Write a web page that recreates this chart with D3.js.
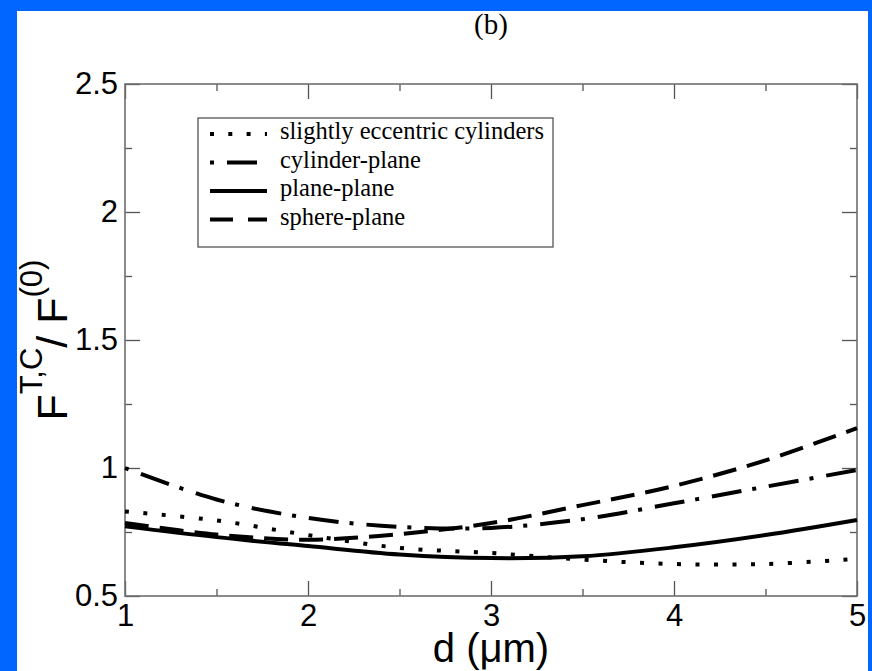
<!DOCTYPE html>
<html>
<head>
<meta charset="utf-8">
<script src="https://cdn.jsdelivr.net/npm/d3@7"></script>
<style>
    body { margin: 0; padding: 0; background: #0066ff; }
    #chart svg { display: block; }
    .tick text { font-family: "Liberation Sans", Arial, sans-serif; font-size: 31px; fill: #000; }
    .tick line { stroke: #555; stroke-width: 1.3px; }
    .legend-text { font-family: "Liberation Serif", "Times New Roman", serif; font-size: 24.5px; fill: #000; }
</style>
</head>
<body>
<div id="chart"></div>
<script>
// distance d in micrometres
var dValues = [1, 1.5, 2, 2.5, 3, 3.5, 4, 4.5, 5];
// F^{T,C} / F^{(0)} per geometry
var eccentricCylinders = [0.83, 0.795, 0.738, 0.688, 0.668, 0.642, 0.625, 0.625, 0.645];
var cylinderPlane = [1.0, 0.877, 0.805, 0.77, 0.766, 0.8, 0.862, 0.927, 0.992];
var planePlane = [0.772, 0.73, 0.695, 0.662, 0.648, 0.655, 0.69, 0.738, 0.797];
var spherePlane = [0.785, 0.74, 0.72, 0.742, 0.785, 0.855, 0.93, 1.03, 1.156];

var seriesNames = ["slightly eccentric cylinders", "cylinder-plane", "plane-plane", "sphere-plane"];
var xMajorTicks = [1, 2, 3, 4, 5];
var xMinorTicks = [1.5, 2.5, 3.5, 4.5];
var yMajorTicks = [0.5, 1, 1.5, 2, 2.5];
var yMinorTicks = [0.75, 1.25, 1.75, 2.25];

var totalWidth = 872, totalHeight = 671;
var margin = {top: 84, right: 15, bottom: 75, left: 125},
    width = totalWidth - margin.left - margin.right,
    height = totalHeight - margin.top - margin.bottom;

var svg = d3.select("#chart").append("svg")
    .attr("width", totalWidth)
    .attr("height", totalHeight);

// blue frame around a white page
svg.append("rect")
    .attr("width", totalWidth).attr("height", totalHeight)
    .attr("fill", "#0066ff");
svg.append("rect")
    .attr("x", 17).attr("y", 11)
    .attr("width", 851).attr("height", 660)
    .attr("fill", "#ffffff");

svg.append("text")
    .attr("x", margin.left + width / 2)
    .attr("y", 34)
    .attr("text-anchor", "middle")
    .style("font-family", "'Liberation Serif', 'Times New Roman', serif")
    .style("font-size", "29px")
    .text("(b)");

var g = svg.append("g")
    .attr("transform", "translate(" + margin.left + "," + margin.top + ")");

var x = d3.scaleLinear().domain([1, 5]).range([0, width]);
var y = d3.scaleLinear().domain([0.5, 2.5]).range([height, 0]);

// axes, ticks pointing inwards on all four sides
g.append("g").attr("class", "x axis")
    .attr("transform", "translate(0," + height + ")")
    .call(d3.axisBottom(x).tickValues(xMajorTicks).tickSize(-15).tickPadding(8)
        .tickFormat(d3.format("d")));
g.append("g").attr("class", "x axis minor")
    .attr("transform", "translate(0," + height + ")")
    .call(d3.axisBottom(x).tickValues(xMinorTicks).tickSize(-7).tickFormat(""));
g.append("g").attr("class", "x axis top")
    .call(d3.axisTop(x).tickValues(xMajorTicks).tickSize(-15).tickFormat(""));
g.append("g").attr("class", "x axis top minor")
    .call(d3.axisTop(x).tickValues(xMinorTicks).tickSize(-7).tickFormat(""));

g.append("g").attr("class", "y axis")
    .call(d3.axisLeft(y).tickValues(yMajorTicks).tickSize(-15).tickPadding(7)
        .tickFormat(function(d) { return d === 1 || d === 2 ? d3.format("d")(d) : d3.format(".1f")(d); }));
g.append("g").attr("class", "y axis minor")
    .call(d3.axisLeft(y).tickValues(yMinorTicks).tickSize(-7).tickFormat(""));
g.append("g").attr("class", "y axis right")
    .attr("transform", "translate(" + width + ",0)")
    .call(d3.axisRight(y).tickValues(yMajorTicks).tickSize(-15).tickFormat(""));
g.append("g").attr("class", "y axis right minor")
    .attr("transform", "translate(" + width + ",0)")
    .call(d3.axisRight(y).tickValues(yMinorTicks).tickSize(-7).tickFormat(""));

g.selectAll(".axis .domain").remove();

g.append("rect")
    .attr("width", width).attr("height", height)
    .attr("fill", "none")
    .attr("stroke", "#6e6e6e")
    .attr("stroke-width", 1.6);

// curves
var series = [
    {name: seriesNames[0], values: eccentricCylinders, dash: "4,14.5"},
    {name: seriesNames[1], values: cylinderPlane, dash: "4,13,30,11"},
    {name: seriesNames[2], values: planePlane, dash: null},
    {name: seriesNames[3], values: spherePlane, dash: "24,11"}
];
var legendDash = ["4,14.3", "4,13,30,11", null, "23,15"];

var line = d3.line()
    .x(function(d) { return x(d[0]); })
    .y(function(d) { return y(d[1]); })
    .curve(d3.curveCatmullRom.alpha(0.5));

series.forEach(function(s) {
    var pts = dValues.map(function(d, i) { return [d, s.values[i]]; });
    g.append("path")
        .datum(pts)
        .attr("d", line)
        .attr("fill", "none")
        .attr("stroke", "#000")
        .attr("stroke-width", 4)
        .attr("stroke-dasharray", s.dash);
});

// legend box
var legend = svg.append("g").attr("class", "legend");
legend.append("rect")
    .attr("x", 198).attr("y", 118)
    .attr("width", 355).attr("height", 129)
    .attr("fill", "#fff")
    .attr("stroke", "#555")
    .attr("stroke-width", 1.3);

var rowY = [134, 162.5, 191, 219.5];
seriesNames.forEach(function(name, i) {
    legend.append("line")
        .attr("x1", 210).attr("x2", 267)
        .attr("y1", rowY[i]).attr("y2", rowY[i])
        .attr("stroke", "#000")
        .attr("stroke-width", 4)
        .attr("stroke-dasharray", legendDash[i]);
    legend.append("text")
        .attr("class", "legend-text")
        .attr("x", 280)
        .attr("y", rowY[i] + 5)
        .text(name);
});

// axis titles
svg.append("text")
    .attr("x", margin.left + width / 2)
    .attr("y", 662)
    .attr("text-anchor", "middle")
    .style("font-family", "'Liberation Sans', Arial, sans-serif")
    .style("font-size", "40px")
    .text("d (\u03bcm)");

var yLabel = svg.append("text")
    .attr("transform", "translate(67," + (margin.top + height / 2) + ") rotate(-90)")
    .attr("text-anchor", "middle")
    .style("font-family", "'Liberation Sans', Arial, sans-serif")
    .style("font-size", "43px");
yLabel.append("tspan").text("F");
yLabel.append("tspan").attr("dy", -25).style("font-size", "31px").text("T,C");
yLabel.append("tspan").attr("dy", 25).text("/ F");
yLabel.append("tspan").attr("dy", -25).style("font-size", "31px").text("(0)");
</script>
</body>
</html>
